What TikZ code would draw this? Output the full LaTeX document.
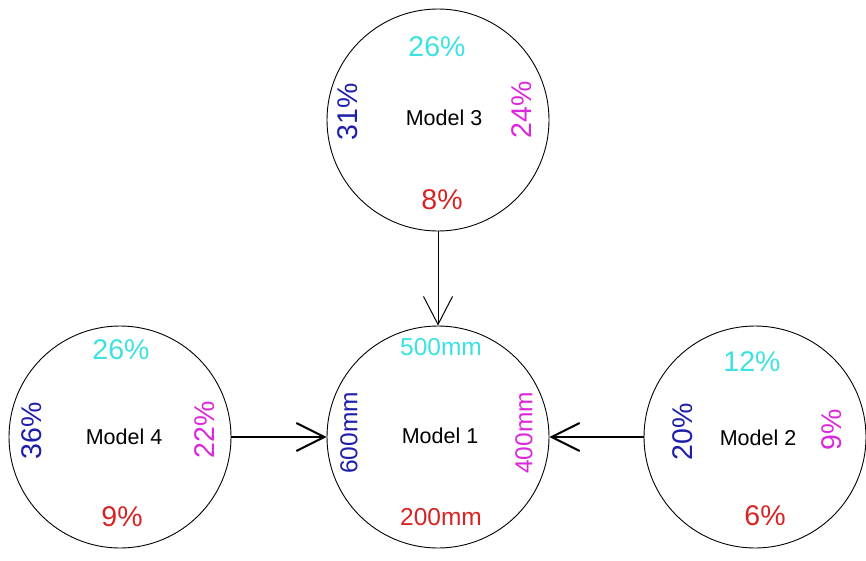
\documentclass[tikz,border=0pt]{standalone}
\usepackage{fontspec}
\setmainfont{Liberation Sans}
\usetikzlibrary{arrows.meta}
\definecolor{topcol}{RGB}{60,225,225}
\definecolor{leftcol}{RGB}{30,30,170}
\definecolor{rightcol}{RGB}{220,40,220}
\definecolor{botcol}{RGB}{215,35,35}
\begin{document}
\begin{tikzpicture}[x=1pt,y=-1pt,
  model/.style={circle,draw=black,line width=0.9pt,minimum size=222pt,inner sep=0pt},
  mtitle/.style={inner sep=0pt,font=\fontsize{21.5}{24}\selectfont},
  pcttext/.style={inner sep=0pt,font=\fontsize{28.5}{32}\selectfont},
  mmtext/.style={inner sep=0pt,font=\fontsize{24.5}{28}\selectfont},
  tc/.style={text=topcol},
  lc/.style={text=leftcol,rotate=90},
  rc/.style={text=rightcol,rotate=90},
  bc/.style={text=botcol},
  feed/.style={-{Straight Barb[length=28pt,width=28pt]},line width=2pt},
  drop/.style={-{Straight Barb[length=28pt,width=29pt]},line width=1pt}]
\useasboundingbox (0,0) rectangle (866,560);

% circles
\node[model] (m3) at (438,120) {};
\node[model] (m1) at (438,437) {};
\node[model] (m4) at (120,437) {};
\node[model] (m2) at (755,437) {};

% Model 3
\node[mtitle] (n3) at (444,118) {Model 3};
\node[pcttext,tc] (m3t) at (437,47) {26\%};
\node[pcttext,lc] (m3l) at (348,112) {31\%};
\node[pcttext,rc] (m3r) at (522,110) {24\%};
\node[pcttext,bc] (m3b) at (442,200) {8\%};

% Model 1
\node[mtitle] (n1) at (440,436) {Model 1};
\node[mmtext,tc] (m1t) at (441,347) {500mm};
\node[mmtext,lc] (m1l) at (349,433) {600mm};
\node[mmtext,rc] (m1r) at (524,433) {400mm};
\node[mmtext,bc] (m1b) at (441,517) {200mm};

% Model 4
\node[mtitle] (n4) at (124,437) {Model 4};
\node[pcttext,tc] (m4t) at (121,350) {26\%};
\node[pcttext,lc] (m4l) at (32,431) {36\%};
\node[pcttext,rc] (m4r) at (205,430) {22\%};
\node[pcttext,bc] (m4b) at (122,517) {9\%};

% Model 2
\node[mtitle] (n2) at (758,438) {Model 2};
\node[pcttext,tc] (m2t) at (752,362) {12\%};
\node[pcttext,lc] (m2l) at (683,432) {20\%};
\node[pcttext,rc] (m2r) at (832,430) {9\%};
\node[pcttext,bc] (m2b) at (765,516) {6\%};

% connectors
\draw[drop] (m3.south) -- (m1.north);
\draw[feed] (m4.east) -- (m1.west);
\draw[feed] (m2.west) -- (m1.east);
\end{tikzpicture}
\end{document}
